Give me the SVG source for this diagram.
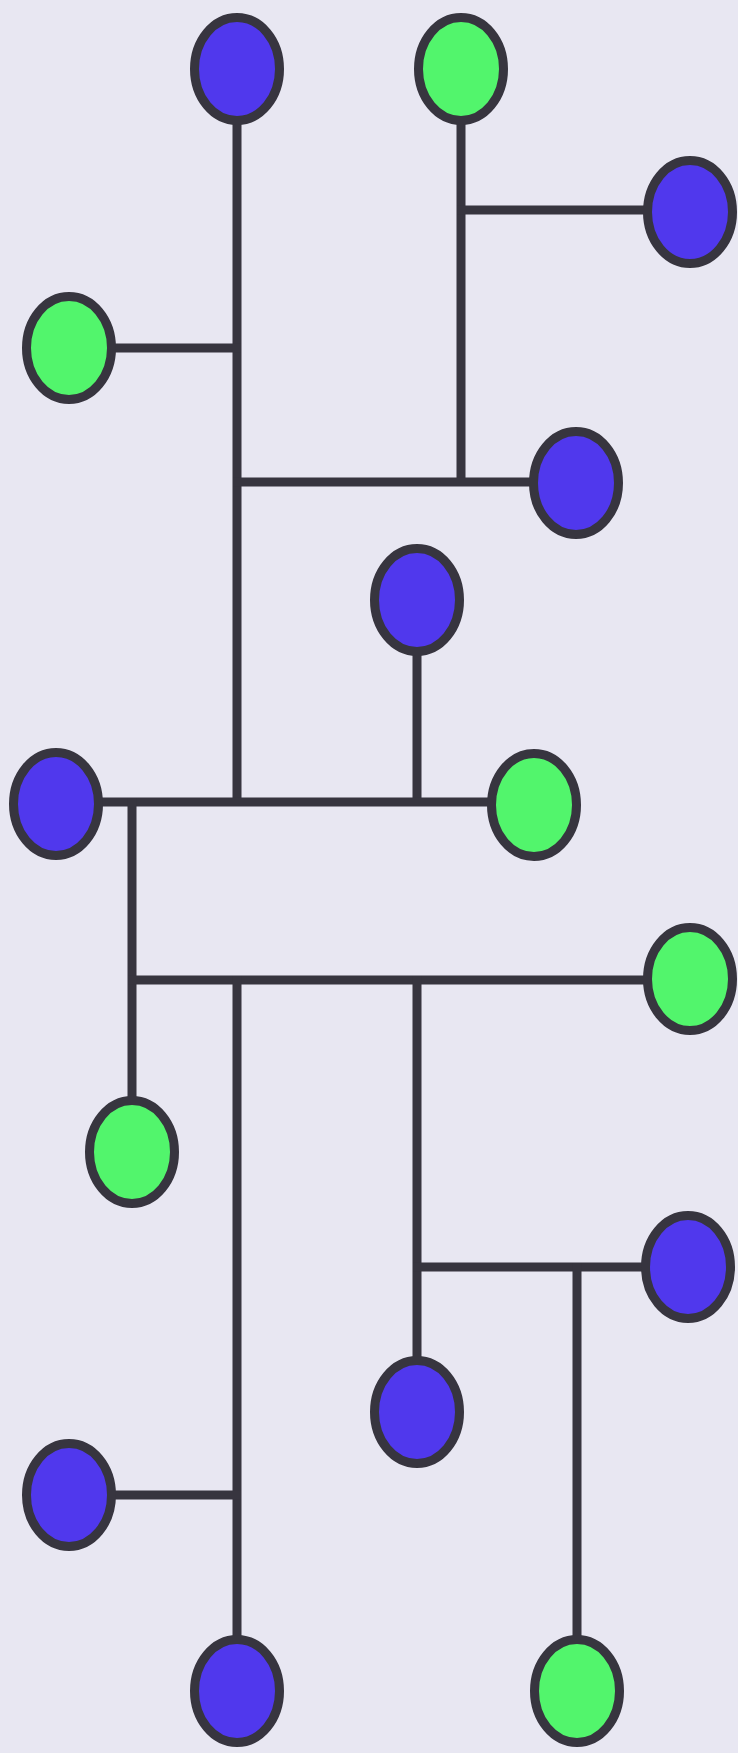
<svg xmlns="http://www.w3.org/2000/svg" width="738" height="1753" viewBox="0 0 738 1753">
<style>
.bg{fill:#E8E7F2}
.ln{stroke:#37353F;stroke-width:9;fill:none;stroke-linecap:butt}
.nd{stroke:#37353F;stroke-width:9}
.b{fill:#5038ED}
.g{fill:#52F56C}
</style>
<rect class="bg" x="0" y="0" width="738" height="1753"/>
<g id="connectors" class="ln">
<line x1="237" y1="69" x2="237" y2="806"/>
<line x1="461" y1="69" x2="461" y2="486"/>
<line x1="457" y1="210" x2="690" y2="210"/>
<line x1="69" y1="348" x2="241" y2="348"/>
<line x1="233" y1="482" x2="576" y2="482"/>
<line x1="417" y1="600" x2="417" y2="806"/>
<line x1="56" y1="802" x2="534" y2="802"/>
<line x1="132" y1="798" x2="132" y2="1152"/>
<line x1="128" y1="980" x2="690" y2="980"/>
<line x1="237" y1="976" x2="237" y2="1691"/>
<line x1="69" y1="1495" x2="241" y2="1495"/>
<line x1="417" y1="976" x2="417" y2="1412"/>
<line x1="413" y1="1267" x2="688" y2="1267"/>
<line x1="577" y1="1263" x2="577" y2="1691"/>
</g>
<g id="n1"><ellipse class="nd b" cx="237" cy="69" rx="42.5" ry="51.5"/></g>
<g id="n2"><ellipse class="nd g" cx="461" cy="69" rx="42.5" ry="51.5"/></g>
<g id="n3"><ellipse class="nd b" cx="690" cy="212" rx="42.5" ry="51.5"/></g>
<g id="n4"><ellipse class="nd g" cx="69" cy="348" rx="42.5" ry="51.5"/></g>
<g id="n5"><ellipse class="nd b" cx="576" cy="483" rx="42.5" ry="51.5"/></g>
<g id="n6"><ellipse class="nd b" cx="417" cy="600" rx="42.5" ry="51.5"/></g>
<g id="n7"><ellipse class="nd b" cx="56" cy="804" rx="42.5" ry="51.5"/></g>
<g id="n8"><ellipse class="nd g" cx="534" cy="805" rx="42.5" ry="51.5"/></g>
<g id="n9"><ellipse class="nd g" cx="690" cy="979" rx="42.5" ry="51.5"/></g>
<g id="n10"><ellipse class="nd g" cx="132" cy="1152" rx="42.5" ry="51.5"/></g>
<g id="n11"><ellipse class="nd b" cx="688" cy="1267" rx="42.5" ry="51.5"/></g>
<g id="n12"><ellipse class="nd b" cx="417" cy="1412" rx="42.5" ry="51.5"/></g>
<g id="n13"><ellipse class="nd b" cx="69" cy="1495" rx="42.5" ry="51.5"/></g>
<g id="n14"><ellipse class="nd b" cx="237" cy="1691" rx="42.5" ry="51.5"/></g>
<g id="n15"><ellipse class="nd g" cx="577" cy="1691" rx="42.5" ry="51.5"/></g>
</svg>
